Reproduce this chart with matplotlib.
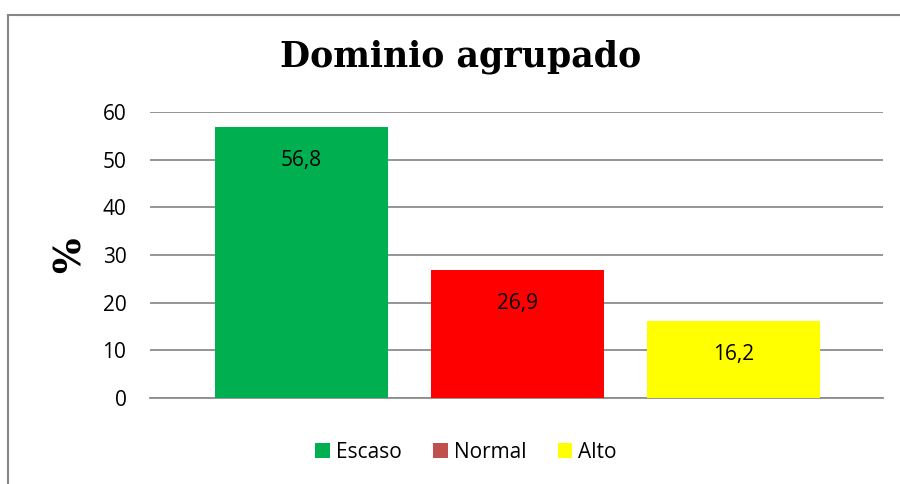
import matplotlib.pyplot as plt
from matplotlib.patches import Rectangle, Patch

categorias = ['Escaso', 'Normal', 'Alto']
valores = [56.8, 26.9, 16.2]
etiquetas = ['56,8', '26,9', '16,2']
colores = ['#00B050', '#FF0000', '#FFFF00']
colores_leyenda = ['#00B050', '#C0504D', '#FFFF00']
yticks = [0, 10, 20, 30, 40, 50, 60]

fig = plt.figure(figsize=(9, 4.84), dpi=100)
# marco del grafico (solo se ven borde izquierdo y superior)
fig.patches.append(Rectangle((8 / 900, -0.1), 1.2, 1 - 15 / 484 + 0.1,
                             transform=fig.transFigure, fill=False,
                             edgecolor='#868686', linewidth=1.5))

ax = fig.add_axes([150 / 900, 1 - 398 / 484, 733 / 900, 286 / 484])
x = list(range(len(categorias)))
ax.bar(x, valores, width=0.8, color=colores, zorder=3)
for xi, v, lab in zip(x, valores, etiquetas):
    ax.text(xi, v - 7, lab, ha='center', va='center', fontsize=15,
            family='Open Sans', zorder=4)

ax.set_ylim(0, 60)
ax.set_xlim(-0.701, 2.692)
ax.set_yticks(yticks)
ax.set_yticklabels([str(t) for t in yticks], fontsize=15, family='Open Sans')
ax.set_xticks([])
ax.tick_params(axis='y', length=0, pad=17)
ax.grid(axis='y', color='#8c8c8c', linewidth=1.3, zorder=0)
for s in ['top', 'right', 'left']:
    ax.spines[s].set_visible(False)
ax.spines['bottom'].set_color('#8c8c8c')
ax.spines['bottom'].set_linewidth(1.3)

ax.set_ylabel('%', fontsize=27, fontweight='bold', family='DejaVu Serif',
              labelpad=10)
fig.text(461 / 900, 1 - 57 / 484, 'Dominio agrupado', ha='center', va='center',
         fontsize=25, fontweight='bold', family='DejaVu Serif')

handles = [Patch(facecolor=c) for c in colores_leyenda]
fig.legend(handles, categorias, loc='center', bbox_to_anchor=(466 / 900, 1 - 452 / 484),
           ncol=3, frameon=False, prop={'family': 'Open Sans', 'size': 15},
           handlelength=0.7, handleheight=0.7, handletextpad=0.3,
           columnspacing=1.5)

fig.savefig('out.png', dpi=100)
